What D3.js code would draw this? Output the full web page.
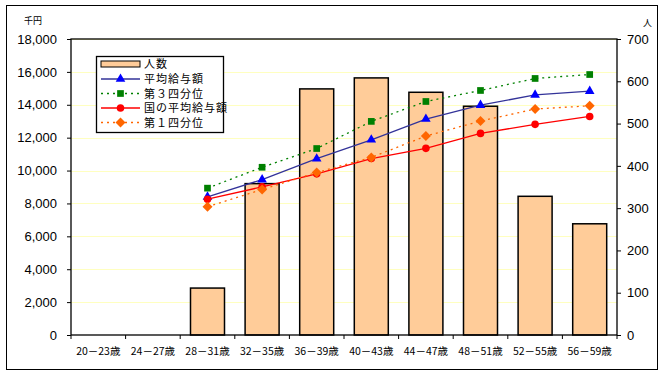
<!DOCTYPE html>
<html>
<head>
<meta charset="utf-8">
<script src="https://cdn.jsdelivr.net/npm/d3@7"></script>
<style>
  body { margin: 0; background: #fff; }
  svg { display: block; }
  .tick text { font-family: "Liberation Sans", Arial, sans-serif; font-size: 13px; fill: #000; }
  .jp { font-family: "Noto Sans CJK JP", sans-serif; fill: #000; }
</style>
</head>
<body>
<div id="chart"></div>
<script>
// age groups
const ageGroups = ["20－23歳", "24－27歳", "28－31歳", "32－35歳", "36－39歳",
  "40－43歳", "44－47歳", "48－51歳", "52－55歳", "56－59歳"];

// 人数 (right axis), null = no bar
const headcount = [null, null, 111, 358, 582, 608, 574, 541, 328, 263];

// 千円 (left axis)
const avgPay = [null, null, 8400, 9450, 10720, 11870, 13130, 13980, 14600, 14830];
const thirdQuartile = [null, null, 8930, 10200, 11340, 12990, 14200, 14870, 15600, 15840];
const nationalAvg = [null, null, 8260, 9010, 9800, 10730, 11350, 12260, 12810, 13290];
const firstQuartile = [null, null, 7800, 8850, 9880, 10800, 12100, 13010, 13740, 13940];

const leftTicks = d3.range(0, 18001, 2000);
const rightTicks = d3.range(0, 701, 100);

const config = {
  width: 664,
  height: 375,
  margin: { top: 39, right: 47, bottom: 39, left: 71 }
};

const svg = d3.select("#chart").append("svg")
  .attr("width", config.width)
  .attr("height", config.height);

// outer frame
svg.append("rect")
  .attr("x", 6.5).attr("y", 5.5)
  .attr("width", 651).attr("height", 364)
  .attr("fill", "none").attr("stroke", "#000").attr("stroke-width", 1);

const innerW = config.width - config.margin.left - config.margin.right;
const innerH = config.height - config.margin.top - config.margin.bottom - 1;

const chart = svg.append("g")
  .attr("transform", `translate(${config.margin.left},${config.margin.top})`);

const xBand = d3.scaleBand().domain(ageGroups).range([0, innerW]);
const yLeft = d3.scaleLinear().domain([0, 18000]).range([innerH, 0]);
const yRight = d3.scaleLinear().domain([0, 700]).range([innerH, 0]);

// square diamond (d3's own diamond is too tall)
const squareDiamond = {
  draw(ctx, size) {
    const r = Math.sqrt(size / 2);
    ctx.moveTo(0, -r); ctx.lineTo(r, 0); ctx.lineTo(0, r); ctx.lineTo(-r, 0); ctx.closePath();
  }
};

// gridlines
chart.append("g").selectAll("line")
  .data(leftTicks.filter(d => d > 0))
  .join("line")
  .attr("x1", 0).attr("x2", innerW)
  .attr("y1", d => Math.round(yLeft(d)) + 0.5)
  .attr("y2", d => Math.round(yLeft(d)) + 0.5)
  .attr("stroke", "#ffffc0").attr("stroke-width", 1);

// bars
chart.append("g").selectAll("rect")
  .data(ageGroups.map((g, i) => ({ g, v: headcount[i] })).filter(d => d.v != null))
  .join("rect")
  .attr("x", d => xBand(d.g) + xBand.bandwidth() / 2 - 17)
  .attr("y", d => yRight(d.v))
  .attr("width", 34)
  .attr("height", d => innerH - yRight(d.v))
  .attr("fill", "#ffcc99")
  .attr("stroke", "#000")
  .attr("stroke-width", 1.5);

// plot frame
chart.append("rect")
  .attr("x", 0).attr("y", 0).attr("width", innerW).attr("height", innerH)
  .attr("fill", "none").attr("stroke", "#000").attr("stroke-width", 1.3);

// axes
const leftAxis = chart.append("g")
  .call(d3.axisLeft(yLeft).tickValues(leftTicks).tickSize(4).tickPadding(10).tickFormat(d3.format(",")));
leftAxis.select(".domain").remove();

const rightAxis = chart.append("g")
  .attr("transform", `translate(${innerW},0)`)
  .call(d3.axisRight(yRight).tickValues(rightTicks).tickSize(4).tickPadding(6));
rightAxis.select(".domain").remove();

// x category boundary ticks
chart.append("g").selectAll("line")
  .data(d3.range(0, ageGroups.length + 1))
  .join("line")
  .attr("x1", i => i * xBand.step()).attr("x2", i => i * xBand.step())
  .attr("y1", innerH).attr("y2", innerH + 4)
  .attr("stroke", "#000");

chart.append("g").selectAll("text")
  .data(ageGroups)
  .join("text")
  .attr("class", "jp")
  .attr("x", d => xBand(d) + xBand.bandwidth() / 2)
  .attr("y", innerH + 20)
  .attr("text-anchor", "middle")
  .attr("font-size", 10.5)
  .text(d => d);

// unit labels
svg.append("text").attr("class", "jp").attr("x", 24).attr("y", 24)
  .attr("font-size", 9).text("千円");
svg.append("text").attr("class", "jp").attr("x", 643).attr("y", 26)
  .attr("font-size", 9).text("人");

// series
const series = [
  { name: "平均給与額", values: avgPay, line: "#333399", mark: "#0000ff", dash: null, shape: d3.symbolTriangle, size: 40 },
  { name: "第３四分位", values: thirdQuartile, line: "#008000", mark: "#008000", dash: "2,4", shape: d3.symbolSquare, size: 45 },
  { name: "国の平均給与額", values: nationalAvg, line: "#ff0000", mark: "#ff0000", dash: null, shape: d3.symbolCircle, size: 45 },
  { name: "第１四分位", values: firstQuartile, line: "#ff6600", mark: "#ff6600", dash: "2,4", shape: squareDiamond, size: 50 }
];

const line = d3.line()
  .defined(d => d.v != null)
  .x(d => xBand(d.g) + xBand.bandwidth() / 2)
  .y(d => yLeft(d.v));

series.forEach(s => {
  const pts = ageGroups.map((g, i) => ({ g, v: s.values[i] }));
  chart.append("path")
    .datum(pts)
    .attr("d", line)
    .attr("fill", "none")
    .attr("stroke", s.line)
    .attr("stroke-width", 1.3)
    .attr("stroke-dasharray", s.dash);
  chart.append("g").selectAll("path")
    .data(pts.filter(d => d.v != null))
    .join("path")
    .attr("transform", d => `translate(${xBand(d.g) + xBand.bandwidth() / 2},${yLeft(d.v)})`)
    .attr("d", d3.symbol().type(s.shape).size(s.size))
    .attr("fill", s.mark);
});

// legend
const legend = svg.append("g").attr("transform", "translate(96,56)");
legend.append("rect")
  .attr("x", 0.5).attr("y", 0.5).attr("width", 127).attr("height", 76)
  .attr("fill", "#fff").attr("stroke", "#000").attr("stroke-width", 1.3);

const rowY = [8, 23, 37.5, 52, 66.5];
legend.append("rect")
  .attr("x", 5).attr("y", rowY[0] - 3).attr("width", 39).attr("height", 6)
  .attr("fill", "#ffcc99").attr("stroke", "#000").attr("stroke-width", 1);
legend.append("text").attr("class", "jp").attr("x", 48).attr("y", rowY[0] + 4)
  .attr("font-size", 11).attr("letter-spacing", 1).text("人数");

series.forEach((s, i) => {
  const y = rowY[i + 1];
  legend.append("line")
    .attr("x1", 5).attr("x2", 44).attr("y1", y).attr("y2", y)
    .attr("stroke", s.line).attr("stroke-width", 1.3)
    .attr("stroke-dasharray", s.dash);
  legend.append("path")
    .attr("transform", `translate(24.5,${y})`)
    .attr("d", d3.symbol().type(s.shape).size(s.size))
    .attr("fill", s.mark);
  legend.append("text").attr("class", "jp").attr("x", 48).attr("y", y + 4)
    .attr("font-size", 11).attr("letter-spacing", 1).text(s.name);
});
</script>
</body>
</html>
